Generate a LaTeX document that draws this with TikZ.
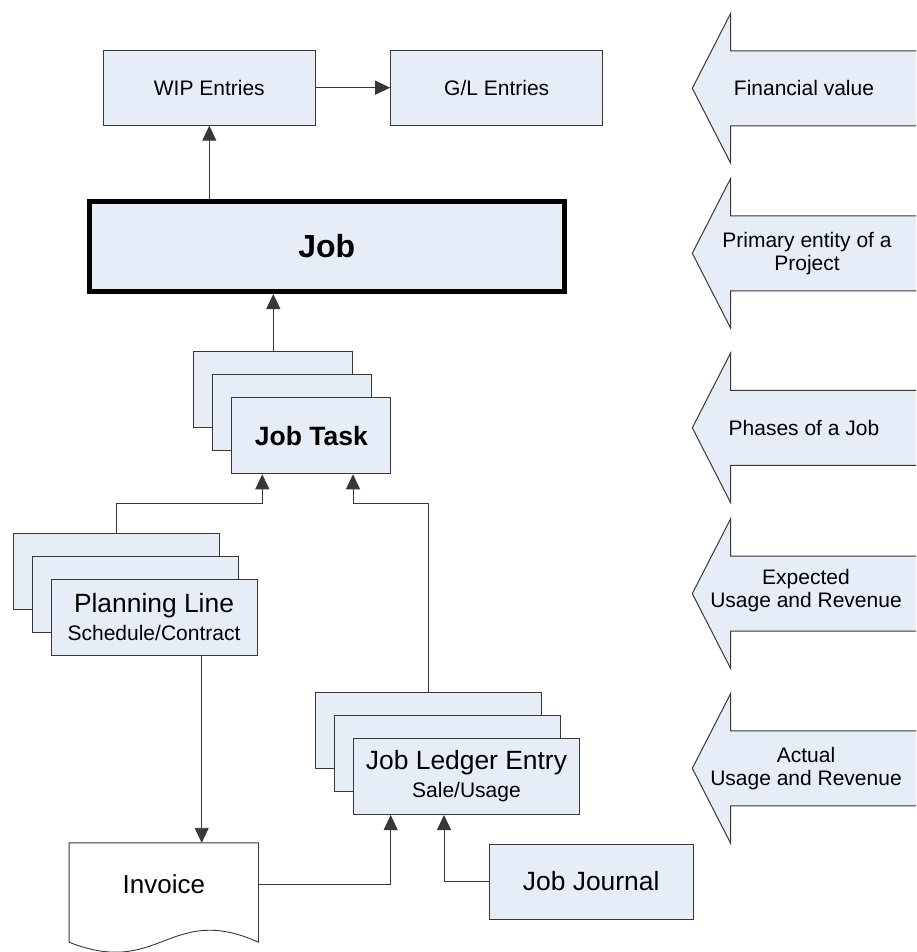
\documentclass[tikz,border=0pt]{standalone}
\usepackage{fontspec}
\setmainfont{Liberation Sans}
\usepackage{xcolor}
\usepackage{tikz}
\usetikzlibrary{arrows.meta, calc, positioning}
\definecolor{boxblue}{RGB}{231,237,247}
\definecolor{edgegray}{RGB}{55,55,55}
\tikzstyle{arrow} = [line width=0.9pt, draw=edgegray, -{Triangle[length=15pt,width=14pt]}]
\tikzstyle{link} = [line width=0.9pt, draw=edgegray]
\tikzstyle{block} = [rectangle, draw=edgegray, fill=boxblue, line width=1pt, align=center, inner sep=0pt, font=\fontsize{21}{24}\selectfont]
\tikzstyle{card} = [block, minimum width=159pt, minimum height=76pt]
\tikzstyle{phasearrow} = [draw=edgegray, fill=boxblue, line width=1pt]
\tikzstyle{phasetext} = [align=center, font=\fontsize{21}{23}\selectfont]

\begin{document}
\begin{tikzpicture}[x=1pt, y=-1pt]
    \useasboundingbox (0,0) rectangle (916,952);
    % Nodes
    \node (wip) [block, minimum width=212pt, minimum height=75pt] at (209.3,87.7) {WIP Entries};
    \node (gl) [block, minimum width=212pt, minimum height=75pt, right=74.4pt of wip] {G/L Entries};
    \node (job) [block, draw=black, line width=5pt, minimum width=475pt, minimum height=90pt, font=\bfseries\fontsize{32}{36}\selectfont] at (326.8,246.5) {Job};

    % Job Task stack
    \node (jt3) [card] at (273.3,389.8) {};
    \node (jt2) [card, xshift=19pt, yshift=-23pt] at (jt3) {};
    \node (jt1) [card, xshift=19pt, yshift=-23pt, font=\bfseries\fontsize{26.5}{30}\selectfont] at (jt2) {Job Task};

    % Planning Line stack
    \node (pl3) [card, minimum width=206pt] at (116,571.2) {};
    \node (pl2) [card, minimum width=206pt, xshift=19pt, yshift=-23pt] at (pl3) {};
    \node (pl1) [card, minimum width=206pt, xshift=19pt, yshift=-23pt, font=\fontsize{26.4}{28}\selectfont] at (pl2) {Planning Line\\{\fontsize{21}{28}\selectfont Schedule/Contract}};

    % Job Ledger Entry stack
    \node (jle3) [card, minimum width=226pt] at (428.5,730.5) {};
    \node (jle2) [card, minimum width=226pt, xshift=19pt, yshift=-23pt] at (jle3) {};
    \node (jle1) [card, minimum width=226pt, xshift=19pt, yshift=-23pt, font=\fontsize{26.4}{28}\selectfont] at (jle2) {Job Ledger Entry\\{\fontsize{21}{28}\selectfont Sale/Usage}};

    \node (jj) [block, minimum width=204pt, minimum height=75pt, font=\fontsize{26.4}{30}\selectfont] at (591.2,881.5) {Job Journal};
    \node (inv) [minimum width=189pt, minimum height=83pt, inner sep=0pt, font=\fontsize{26}{30}\selectfont] at (163.8,884.5) {Invoice};
    \draw [link] (inv.north west) -- (inv.north east) -- ($(inv.south east)+(0,16)$)
        .. controls ($(inv.south)+(6,-24)$) and ($(inv.south)+(-4,52)$) .. ($(inv.south west)+(0,16)$) -- cycle;

    % Phase arrows
    \filldraw [phasearrow] (916,50.8) -| (730.7,13.3) -- (692.3,88.3) -- (730.7,163.3) |- (916,125.8);
    \node (p1) [phasetext] at (804,88.3) {Financial value};
    \filldraw [phasearrow] (916,215.8) -| (730.7,178.3) -- (692.3,253.3) -- (730.7,328.3) |- (916,290.8);
    \node (p2) [phasetext] at (807,253.3) {Primary entity of a\\Project};
    \filldraw [phasearrow] (916,390.3) -| (730.7,352.8) -- (692.3,427.8) -- (730.7,502.8) |- (916,465.3);
    \node (p3) [phasetext] at (804,427.8) {Phases of a Job};
    \filldraw [phasearrow] (916,556.1) -| (730.7,518.6) -- (692.3,593.6) -- (730.7,668.6) |- (916,631.1);
    \node (p4) [phasetext] at (806,591) {Expected\\Usage and Revenue};
    \filldraw [phasearrow] (916,730.9) -| (730.7,693.4) -- (692.3,768.4) -- (730.7,843.4) |- (916,805.9);
    \node (p5) [phasetext] at (806,768.4) {Actual\\Usage and Revenue};

    % Arrows
    \draw [arrow] (wip.east) -- (gl.west);
    \draw [arrow] (job.north -| wip.south) -- (wip.south);
    \draw [arrow] (jt3.north) -- (jt3.north |- job.south);
    \draw [arrow] (pl3.north) |- ([xshift=-49pt, yshift=-29.5pt]jt1.south) -- ([xshift=-49pt]jt1.south);
    \draw [arrow] (jle3.north) |- ([xshift=41.7pt, yshift=-29.5pt]jt1.south) -- ([xshift=41.7pt]jt1.south);
    \draw [arrow] ([xshift=47.7pt]pl1.south) -- ([xshift=47.7pt]pl1.south |- inv.north);
    \draw [arrow] (inv.east) -| ([xshift=-75.8pt]jle1.south);
    \draw [arrow] (jj.west) -| ([xshift=-22.5pt]jle1.south);
\end{tikzpicture}
\end{document}
